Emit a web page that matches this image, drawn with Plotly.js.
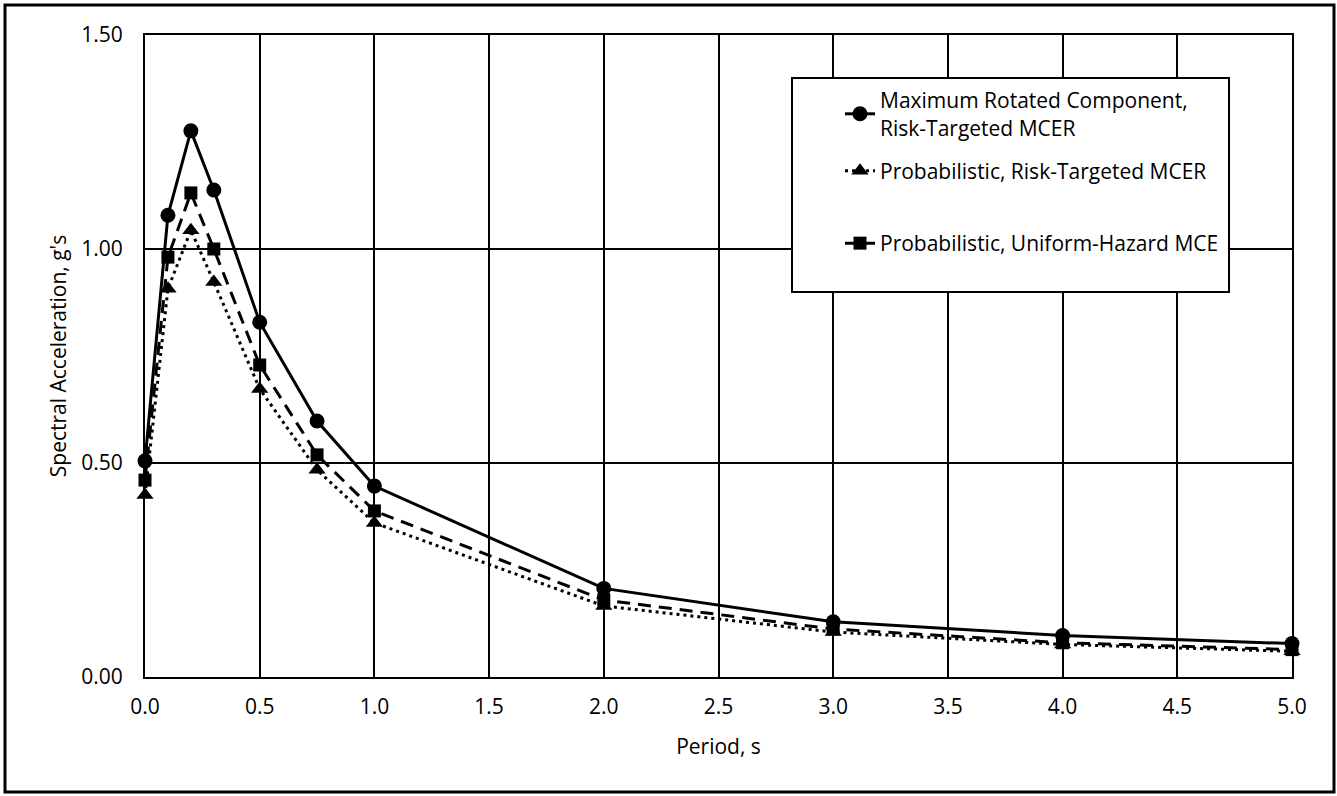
<!DOCTYPE html>
<html>
<head>
<meta charset="utf-8">
<script src="https://cdn.plot.ly/plotly-3.0.1.min.js"></script>
<style>
html,body{margin:0;padding:0;background:#fff;}
#chart{width:1337px;height:796px;}
</style>
</head>
<body>
<div id="chart"></div>
<script>
const periods = [0, 0.1, 0.2, 0.3, 0.5, 0.75, 1.0, 2.0, 3.0, 4.0, 5.0];
const maxRotatedMCER = [0.505, 1.079, 1.276, 1.138, 0.829, 0.598, 0.446, 0.207, 0.129, 0.097, 0.078];
const probabilisticMCER = [0.425, 0.907, 1.044, 0.923, 0.673, 0.484, 0.360, 0.166, 0.105, 0.076, 0.060];
const uniformHazardMCE = [0.460, 0.981, 1.131, 1.000, 0.729, 0.519, 0.388, 0.180, 0.112, 0.080, 0.064];
const seriesNames = [
  "Maximum Rotated Component,<br>Risk-Targeted MCER",
  "Probabilistic, Risk-Targeted MCER",
  "Probabilistic, Uniform-Hazard MCE"
];
const xTicks = [0, 0.5, 1, 1.5, 2, 2.5, 3, 3.5, 4, 4.5, 5];
const yTicks = [0, 0.5, 1.0, 1.5];

const FONT = "Open Sans, Noto Sans, sans-serif";
const FS = 21;

const traces = [
  {x: periods, y: maxRotatedMCER, name: seriesNames[0], legendgroup: "a", legend: "legend", type: "scatter", mode: "lines+markers",
   cliponaxis: false,
   line: {color: "#000", width: 3}, marker: {symbol: "circle", size: 15, color: "#000"}},
  {x: periods, y: probabilisticMCER, name: seriesNames[1], legendgroup: "b", legend: "legend", type: "scatter", mode: "lines+markers",
   cliponaxis: false,
   line: {color: "#000", width: 3, dash: "3px,4px"}, marker: {symbol: "triangle-up", size: 15, color: "#000"}},
  {x: periods, y: uniformHazardMCE, name: seriesNames[2], legendgroup: "c", legend: "legend2", type: "scatter", mode: "lines+markers",
   cliponaxis: false,
   line: {color: "#000", width: 3, dash: "13px,8px"}, marker: {symbol: "square", size: 13, color: "#000"}}
];

const W = 1337, H = 796;
const L = 145, R = 45, T = 35, B = 119;
const pw = W - L - R, ph = H - T - B;
const px = v => (v - L) / pw;
const py = v => (H - B - v) / ph;

const legendFont = {family: FONT, size: FS, color: "#000"};

const layout = {
  width: W, height: H,
  margin: {l: L, r: R, t: T, b: B, pad: 0},
  paper_bgcolor: "#fff", plot_bgcolor: "#fff",
  font: {family: FONT, size: FS, color: "#000"},
  showlegend: true,
  legend: {
    x: px(840), y: py(80), xanchor: "left", yanchor: "top",
    bgcolor: "rgba(0,0,0,0)", borderwidth: 0, font: legendFont,
    traceorder: "grouped", tracegroupgap: 13
  },
  legend2: {
    x: px(840), y: py(223), xanchor: "left", yanchor: "top",
    bgcolor: "rgba(0,0,0,0)", borderwidth: 0, font: legendFont
  },
  xaxis: {
    range: [0, 5], tickvals: xTicks, tickformat: ".1f",
    showgrid: true, gridcolor: "#000", gridwidth: 2,
    showline: true, linecolor: "#000", linewidth: 2, mirror: true,
    ticks: "", zeroline: false, ticklabelstandoff: 10,
    tickfont: {family: FONT, size: FS, color: "#000"},
    title: {text: "Period, s", font: {family: FONT, size: FS, color: "#000"}, standoff: 20},
    automargin: false, fixedrange: true
  },
  yaxis: {
    range: [0, 1.5], tickvals: yTicks, tickformat: ".2f",
    showgrid: true, gridcolor: "#000", gridwidth: 2,
    showline: true, linecolor: "#000", linewidth: 2, mirror: true,
    ticks: "", zeroline: false, ticklabelstandoff: 16,
    tickfont: {family: FONT, size: FS, color: "#000"},
    title: {text: "Spectral Acceleration, g's", font: {family: FONT, size: FS, color: "#000"}, standoff: 9},
    automargin: false, fixedrange: true
  },
  shapes: [
    {type: "rect", xref: "paper", yref: "paper", x0: px(5), x1: px(1334), y0: py(792), y1: py(5),
     line: {color: "#000", width: 3}, fillcolor: "rgba(0,0,0,0)", layer: "above"},
    {type: "rect", xref: "paper", yref: "paper", x0: px(792), x1: px(1229), y0: py(292), y1: py(78),
     line: {color: "#000", width: 2}, fillcolor: "#fff", layer: "above"}
  ]
};

Plotly.newPlot("chart", traces, layout, {displayModeBar: false, staticPlot: true});
</script>
</body>
</html>
